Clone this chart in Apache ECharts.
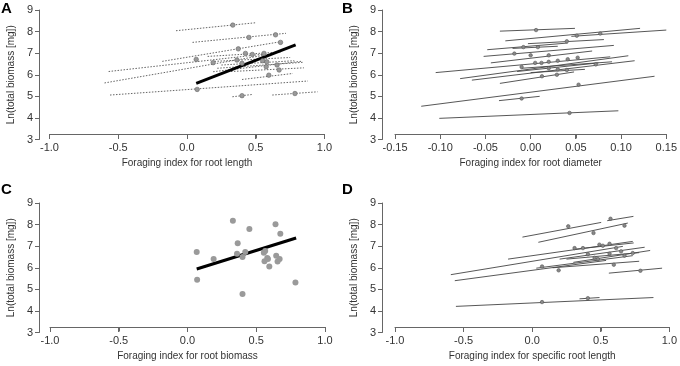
<!DOCTYPE html>
<html>
<head>
<meta charset="utf-8">
<script src="https://cdn.jsdelivr.net/npm/echarts@6/dist/echarts.min.js"></script>
<style>
html, body { margin: 0; padding: 0; background: #fff; }
#chart { width: 680px; height: 366px; }
</style>
</head>
<body>
<div id="chart"></div>
<script>
// axis titles and tick values
var xTitles = ['Foraging index for root length', 'Foraging index for root diameter',
               'Foraging index for root biomass', 'Foraging index for specific root length'];
var yTitle = 'Ln(total biomass [mg])';
var panelLetters = ['A', 'B', 'C', 'D'];
var ticksWide = [-1, -0.5, 0, 0.5, 1];
var ticksDiam = [-0.15, -0.10, -0.05, 0, 0.05, 0.10, 0.15];

// panel A: per-species lines (x1, y1, x2, y2), species points, overall fit
var segsA = [
    [-0.08, 8.04, 0.50, 8.41],
    [0.04, 7.50, 0.72, 7.92],
    [-0.18, 6.62, 0.70, 7.55],
    [-0.57, 6.15, 0.55, 6.95],
    [-0.60, 5.62, 0.60, 6.95],
    [-0.56, 5.06, 0.88, 5.71],
    [0.33, 4.98, 0.48, 5.09],
    [0.62, 5.06, 0.95, 5.21],
    [0.15, 6.85, 0.68, 7.05],
    [0.20, 6.62, 0.75, 6.80],
    [0.25, 6.45, 0.78, 6.65],
    [0.22, 6.30, 0.85, 6.58],
    [0.32, 6.15, 0.85, 6.32],
    [0.19, 6.14, 0.84, 6.63],
    [0.40, 5.78, 0.77, 6.06]
];
var ptsA = [
    [0.333, 8.30], [0.45, 7.73], [0.644, 7.85], [0.373, 7.20], [0.68, 7.50],
    [0.067, 6.71], [0.19, 6.56], [0.425, 6.99], [0.475, 6.94], [0.56, 6.99],
    [0.363, 6.68], [0.40, 6.53], [0.55, 6.65], [0.58, 6.60], [0.655, 6.45],
    [0.576, 6.37], [0.67, 6.22], [0.595, 5.98], [0.074, 5.32], [0.40, 5.03],
    [0.785, 5.13]
];
var fitA = [0.067, 5.60, 0.79, 7.38];

// panel B
var segsB = [
    [-0.034, 8.02, 0.049, 8.15],
    [-0.028, 7.57, 0.121, 8.15],
    [0.045, 7.78, 0.150, 8.07],
    [-0.003, 7.44, 0.081, 7.63],
    [-0.048, 7.16, 0.041, 7.47],
    [-0.020, 7.22, 0.030, 7.32],
    [-0.052, 6.85, 0.092, 7.36],
    [-0.044, 6.55, 0.068, 7.10],
    [-0.105, 6.10, 0.088, 6.83],
    [-0.078, 5.82, 0.108, 6.88],
    [-0.065, 5.75, 0.115, 6.65],
    [-0.034, 5.60, 0.048, 6.13],
    [-0.015, 6.15, 0.075, 6.55],
    [-0.010, 6.30, 0.090, 6.60],
    [0.000, 6.10, 0.060, 6.25],
    [-0.121, 4.54, 0.137, 5.93],
    [-0.035, 4.80, 0.010, 5.00],
    [-0.101, 3.98, 0.097, 4.33]
];
var ptsB = [
    [0.006, 8.07], [0.051, 7.81], [0.077, 7.91], [0.040, 7.55], [-0.008, 7.28],
    [0.008, 7.28], [-0.018, 6.98], [0.000, 6.90], [0.020, 6.90], [-0.010, 6.36],
    [0.005, 6.55], [0.012, 6.55], [0.020, 6.60], [0.030, 6.65], [0.041, 6.72],
    [0.052, 6.79], [0.072, 6.48], [0.020, 6.30], [0.030, 6.25], [0.040, 6.22],
    [0.0125, 5.93], [0.029, 6.00], [0.053, 5.54], [-0.010, 4.90], [0.043, 4.23]
];

// panel C: species means and overall fit
var ptsC = [
    [0.067, 6.73], [0.07, 5.44], [0.19, 6.40], [0.33, 8.18], [0.365, 7.14],
    [0.36, 6.65], [0.40, 6.50], [0.42, 6.73], [0.40, 4.78], [0.45, 7.79],
    [0.555, 6.70], [0.565, 6.78], [0.56, 6.30], [0.58, 6.45], [0.585, 6.40],
    [0.595, 6.06], [0.64, 8.01], [0.645, 6.56], [0.655, 6.29], [0.67, 6.40],
    [0.675, 7.58], [0.785, 5.32]
];
var fitC = [0.067, 5.94, 0.79, 7.38];

// panel D
var segsD = [
    [0.547, 8.18, 0.738, 8.38],
    [-0.071, 7.42, 0.503, 8.10],
    [0.045, 7.18, 0.697, 8.07],
    [-0.176, 6.40, 0.733, 7.22],
    [-0.593, 5.68, 0.661, 6.99],
    [-0.564, 5.40, 0.539, 6.34],
    [0.030, 5.98, 0.733, 6.56],
    [0.150, 6.00, 0.780, 6.30],
    [0.559, 5.75, 0.947, 5.98],
    [-0.556, 4.21, 0.884, 4.62],
    [0.345, 4.56, 0.491, 4.62],
    [0.300, 6.85, 0.740, 7.15],
    [0.200, 6.40, 0.820, 6.95],
    [0.250, 6.40, 0.780, 6.70],
    [0.300, 6.25, 0.860, 6.80]
];
var ptsD = [
    [0.571, 8.27], [0.263, 7.92], [0.447, 7.61], [0.673, 7.95], [0.309, 6.91],
    [0.193, 5.88], [0.072, 6.06], [0.595, 6.14], [0.789, 5.86], [0.072, 4.41],
    [0.406, 4.59], [0.37, 6.91], [0.406, 6.63], [0.455, 6.46], [0.49, 7.07],
    [0.515, 7.02], [0.564, 7.11], [0.612, 6.91], [0.648, 6.76], [0.564, 6.65],
    [0.479, 6.40], [0.673, 6.56], [0.733, 6.68]
];

var FONT = 'Liberation Sans';
var AXIS_COLOR = '#666';
var TEXT_COLOR = '#333';
var TICK_LEN = 4;
var X_LIFT = 5;   // x axis sits 5px above the y=3 tick, as in the R figure
var panelTicks = [ticksWide, ticksDiam, ticksWide, ticksWide];
var tickSteps = [0.5, 0.05, 0.5, 0.5];
var tickDigits = [1, 2, 1, 1];
var grids = [
    { left: 49.5, top: 10, width: 275, height: 129.5 },
    { left: 395, top: 10, width: 275, height: 129.5 },
    { left: 50, top: 203, width: 275, height: 129.5 },
    { left: 395, top: 203, width: 275, height: 129.5 }
];
var yOffsets = [10.5, 13, 11, 13];

function makeX(i) {
    var t = panelTicks[i];
    return {
        gridIndex: i, type: 'value', min: t[0], max: t[t.length - 1], interval: tickSteps[i],
        offset: -X_LIFT,
        name: xTitles[i], nameLocation: 'middle', nameGap: 24,
        nameTextStyle: { fontFamily: FONT, fontSize: 10, color: TEXT_COLOR },
        axisLine: { show: true, onZero: false, lineStyle: { color: AXIS_COLOR, width: 1 } },
        axisTick: { show: true, length: TICK_LEN, lineStyle: { color: AXIS_COLOR, width: 1 } },
        axisLabel: { margin: 8, fontFamily: FONT, fontSize: 11, color: TEXT_COLOR,
            formatter: function (v) {
                return (Math.abs(v) < 1e-9 ? 0 : v).toFixed(tickDigits[i]);
            } },
        splitLine: { show: false }
    };
}
function makeY(i) {
    return {
        gridIndex: i, type: 'value', min: 3, max: 9, interval: 1,
        offset: yOffsets[i],
        name: yTitle, nameLocation: 'middle', nameGap: 23,
        nameTextStyle: { fontFamily: FONT, fontSize: 10, color: TEXT_COLOR },
        axisLine: { show: true, onZero: false, lineStyle: { color: AXIS_COLOR, width: 1 } },
        axisTick: { show: true, length: TICK_LEN, lineStyle: { color: AXIS_COLOR, width: 1 } },
        axisLabel: { margin: 6, fontFamily: FONT, fontSize: 11, color: TEXT_COLOR },
        splitLine: { show: false }
    };
}

function toLines(segs) {
    return segs.map(function (s) { return { coords: [[s[0], s[1]], [s[2], s[3]]] }; });
}
function segSeries(i, segs, style) {
    return { type: 'lines', coordinateSystem: 'cartesian2d', xAxisIndex: i, yAxisIndex: i,
        silent: true, data: toLines(segs), lineStyle: style, z: 2 };
}
function ptSeries(i, pts, size, color, border) {
    return { type: 'scatter', xAxisIndex: i, yAxisIndex: i, silent: true, data: pts,
        symbol: 'circle', symbolSize: size,
        itemStyle: { color: color, borderColor: border, borderWidth: border ? 0.6 : 0, opacity: 1 },
        z: 3 };
}

var dotted = { color: '#666', width: 1, type: [1.5, 1.5], opacity: 1 };
var solid = { color: '#444', width: 0.9, type: 'solid', opacity: 1 };
var thick = { color: '#000', width: 3, type: 'solid', opacity: 1 };

var letters = panelLetters.map(function (t, i) {
    var pos = [[1, 1], [342, 1], [1, 182], [342, 182]][i];
    return { type: 'text', left: pos[0], top: pos[1], z: 100,
        style: { text: t, fontFamily: FONT, fontWeight: 'bold', fontSize: 15, fill: '#000' } };
});

var xAxes = [], yAxes = [];
for (var i = 0; i < 4; i++) { xAxes.push(makeX(i)); yAxes.push(makeY(i)); }

var chart = echarts.init(document.getElementById('chart'), null, { renderer: 'canvas' });
chart.setOption({
    animation: false,
    backgroundColor: '#fff',
    grid: grids,
    xAxis: xAxes,
    yAxis: yAxes,
    graphic: letters,
    series: [
        segSeries(0, segsA, dotted),
        ptSeries(0, ptsA, 4.5, '#999', '#666'),
        segSeries(0, [fitA], thick),
        segSeries(1, segsB, solid),
        ptSeries(1, ptsB, 3.5, '#888', '#555'),
        ptSeries(2, ptsC, 6, '#9a9a9a', null),
        segSeries(2, [fitC], thick),
        segSeries(3, segsD, solid),
        ptSeries(3, ptsD, 3.5, '#888', '#555')
    ]
});

// x axis line and tick marks as filled 1px rects, placed with each panel's x scale
function xPixel(p, v) {
    var g = grids[p], t = panelTicks[p];
    var px = null;
    try { px = chart.convertToPixel({ xAxisIndex: p }, v); } catch (e) { px = null; }
    if (typeof px !== 'number' || isNaN(px)) {
        px = g.left + g.width * (v - t[0]) / (t[t.length - 1] - t[0]);
    }
    return px;
}
var axisMarks = [];
for (var p = 0; p < 4; p++) {
    var t = panelTicks[p];
    var g = grids[p];
    var row = Math.floor(g.top + g.height - X_LIFT);
    var xa = Math.floor(xPixel(p, t[0]));
    var xb = Math.floor(xPixel(p, t[t.length - 1]));
    axisMarks.push({ type: 'rect', silent: true, z: 100,
        shape: { x: xa, y: row, width: xb - xa + 1, height: 1 },
        style: { fill: AXIS_COLOR } });
    for (var k = 0; k < t.length; k++) {
        axisMarks.push({ type: 'rect', silent: true, z: 100,
            shape: { x: Math.floor(xPixel(p, t[k])), y: row, width: 1, height: TICK_LEN + 1 },
            style: { fill: AXIS_COLOR } });
    }
}
chart.setOption({ graphic: letters.concat(axisMarks) });
</script>
</body>
</html>
